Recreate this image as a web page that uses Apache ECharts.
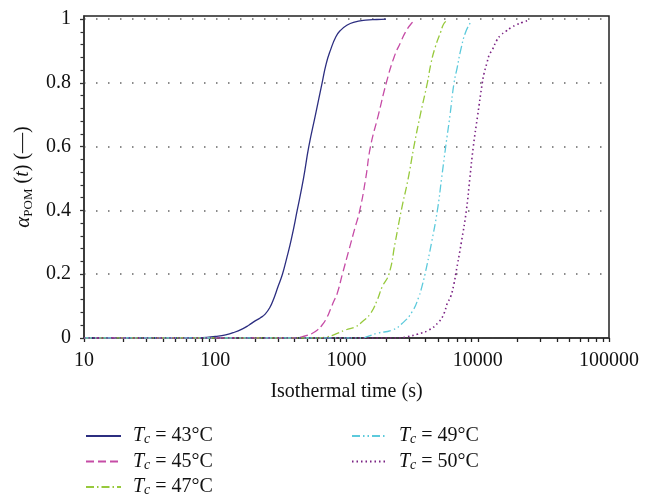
<!DOCTYPE html>
<html><head><meta charset="utf-8">
<script src="https://cdn.jsdelivr.net/npm/echarts@6/dist/echarts.min.js"></script>
<style>html,body{margin:0;padding:0;background:#fff}#c{width:651px;height:500px}</style>
</head><body><div id="c"></div>
<script>
const temps = ['43', '45', '47', '49', '50'];

const time43  = [10, 50, 80, 100, 120, 140, 160, 180, 200, 220, 240, 260, 280, 300, 325, 350, 380, 421, 470, 516, 580, 652, 700, 755, 830, 900, 1000, 1130, 1400, 1700, 2000];
const alpha43 = [0, 0, 0.001, 0.005, 0.01, 0.018, 0.028, 0.04, 0.053, 0.063, 0.075, 0.095, 0.125, 0.16, 0.2, 0.25, 0.31, 0.4, 0.5, 0.6, 0.7, 0.8, 0.86, 0.903, 0.945, 0.965, 0.98, 0.99, 0.997, 0.999, 1.0];

const time45  = [10, 400, 450, 500, 550, 600, 650, 700, 755, 800, 850, 930, 1050, 1150, 1262, 1400, 1523, 1750, 2010, 2300, 2600, 2820, 3100, 3365];
const alpha45 = [0, 0, 0.003, 0.008, 0.015, 0.025, 0.04, 0.06, 0.09, 0.115, 0.14, 0.2, 0.28, 0.34, 0.4, 0.5, 0.6, 0.7, 0.8, 0.88, 0.93, 0.96, 0.985, 0.997];

const time47  = [10, 600, 700, 800, 982, 1171, 1318, 1525, 1714, 1872, 2104, 2350, 2614, 2950, 3262, 3650, 4130, 4400, 4750, 5220, 5500, 5866];
const alpha47 = [0, 0, 0.003, 0.01, 0.025, 0.035, 0.051, 0.077, 0.119, 0.161, 0.2, 0.3, 0.4, 0.5, 0.6, 0.7, 0.8, 0.861, 0.913, 0.96, 0.985, 0.997];

const time49  = [10, 1300, 1438, 1714, 2233, 2663, 3172, 3563, 3780, 3963, 4450, 4925, 5300, 5699, 6150, 6596, 6986, 7413, 8093, 8844];
const alpha49 = [0, 0, 0.004, 0.015, 0.025, 0.046, 0.083, 0.13, 0.166, 0.2, 0.3, 0.4, 0.5, 0.6, 0.7, 0.8, 0.85, 0.903, 0.96, 0.99];

const time50  = [10, 2500, 2904, 3460, 4246, 5066, 5530, 5866, 6223, 6596, 6792, 7500, 8188, 8700, 9250, 10000, 10830, 11170, 11720, 12210, 12950, 13970, 14990, 16360, 17870, 19840, 21900, 24660];
const alpha50 = [0, 0, 0.004, 0.012, 0.025, 0.051, 0.077, 0.109, 0.13, 0.171, 0.2, 0.3, 0.4, 0.5, 0.6, 0.7, 0.8, 0.83, 0.861, 0.887, 0.905, 0.934, 0.95, 0.962, 0.973, 0.983, 0.99, 0.997];

const xTickValues = [10, 20, 30, 40, 50, 60, 70, 80, 90, 100, 200, 300, 400, 500, 600, 700, 800, 900, 1000, 2000, 3000, 4000, 5000, 6000, 7000, 8000, 9000, 10000, 20000, 30000, 40000, 50000, 60000, 70000, 80000, 90000, 100000];
const xLabelValues = [10, 100, 1000, 10000, 100000];
const yLabelValues = [0, 0.2, 0.4, 0.6, 0.8, 1];
const yMinorValues = [0.04, 0.08, 0.12, 0.16, 0.24, 0.28, 0.32, 0.36, 0.44, 0.48, 0.52, 0.56, 0.64, 0.68, 0.72, 0.76, 0.84, 0.88, 0.92, 0.96];

const times = [time43, time45, time47, time49, time50];
const alphas = [alpha43, alpha45, alpha47, alpha49, alpha50];
const colors = ['#2c2e80', '#c64ca6', '#97c93c', '#5ccadc', '#7b2384'];
const dashes = ['solid', [8, 4], [8, 3, 1.5, 3], [8, 3, 1.5, 3, 1.5, 3], [1.5, 3]];
const widths = [1.3, 1.3, 1.3, 1.3, 1.6];

const FONT = 'Liberation Serif';
const names = temps.map(t => 'Tc = ' + t + '°C');

const series = temps.map((t, i) => ({
  name: names[i],
  type: 'line',
  xAxisIndex: 0, yAxisIndex: 0,
  symbol: 'none',
  smooth: 0.5,
  data: times[i].map((x, j) => [x, alphas[i][j]]),
  lineStyle: { color: colors[i], width: widths[i], type: dashes[i] },
  itemStyle: { color: colors[i] }
}));

const legendRich = {
  it: { fontFamily: FONT, fontStyle: 'italic', fontSize: 20, lineHeight: 21, color: '#111', padding: [0, 0, 0, 7] },
  sub: { fontFamily: FONT, fontStyle: 'italic', fontSize: 14, lineHeight: 12, verticalAlign: 'bottom', color: '#111' },
  n: { fontFamily: FONT, fontSize: 20, lineHeight: 21, color: '#111' }
};
const legendFmt = name => {
  const t = name.replace('Tc = ', '');
  return '{it|T}{sub|c}{n| = ' + t + '}';
};
function makeLegend(data, left) {
  return {
    data: data, left: left, top: 426, orient: 'vertical', padding: 0,
    itemWidth: 35, itemHeight: 14, itemGap: 5,
    formatter: legendFmt, textStyle: { rich: legendRich },
    itemStyle: { opacity: 0 }
  };
}

const chart = echarts.init(document.getElementById('c'), null, { renderer: 'canvas' });
chart.setOption({
  animation: false,
  backgroundColor: '#fff',
  textStyle: { fontFamily: FONT },
  grid: { left: 84, right: 42, top: 16, bottom: 162, show: true, borderColor: '#222', borderWidth: 1.5, backgroundColor: 'transparent' },
  legend: [makeLegend(names.slice(0, 3), 85), makeLegend(names.slice(3), 351)],
  xAxis: [{
    type: 'log', logBase: 10, min: 10, max: 100000,
    name: 'Isothermal time (s)', nameLocation: 'middle', nameGap: 44,
    nameTextStyle: { fontFamily: FONT, fontSize: 20, color: '#111' },
    axisLine: { show: true, onZero: false, lineStyle: { color: '#333', width: 1.5 } },
    axisTick: { show: true, customValues: xTickValues, length: 4, lineStyle: { color: '#222', width: 1.3 } },
    axisLabel: { customValues: xLabelValues, margin: 13, fontFamily: FONT, fontSize: 20, color: '#111',
      formatter: v => String(Math.round(v)) },
    splitLine: { show: false },
    minorTick: { show: false }
  }],
  yAxis: [{
    type: 'value', min: 0, max: 1.01, position: 'left',
    name: '{a|α}{s|POM}{n| (}{it|t}{n|) (—)}', nameLocation: 'middle', nameGap: 42,
    nameTextStyle: { rich: {
      a: { fontFamily: FONT, fontStyle: 'italic', fontSize: 21, lineHeight: 24, color: '#111' },
      s: { fontFamily: FONT, fontSize: 13, lineHeight: 13, verticalAlign: 'bottom', color: '#111' },
      it: { fontFamily: FONT, fontStyle: 'italic', fontSize: 20, lineHeight: 24, color: '#111' },
      n: { fontFamily: FONT, fontSize: 20, lineHeight: 24, color: '#111' }
    } },
    axisLine: { show: true, lineStyle: { color: '#333', width: 1.5 } },
    axisTick: { show: true, customValues: yLabelValues, length: 4, lineStyle: { color: '#333', width: 1.3 } },
    axisLabel: { customValues: yLabelValues, margin: 13, fontFamily: FONT, fontSize: 20, color: '#111' },
    splitLine: { show: true, lineStyle: { color: '#666', width: 1.6, type: [1.5, 10.5] } }
  }, {
    type: 'value', min: 0, max: 1.01, position: 'left',
    axisLine: { show: false },
    axisTick: { show: true, customValues: yMinorValues, length: 3.5, lineStyle: { color: '#333', width: 1.2 } },
    axisLabel: { show: false },
    splitLine: { show: false }
  }],
  series: series
});
</script>
</body></html>
